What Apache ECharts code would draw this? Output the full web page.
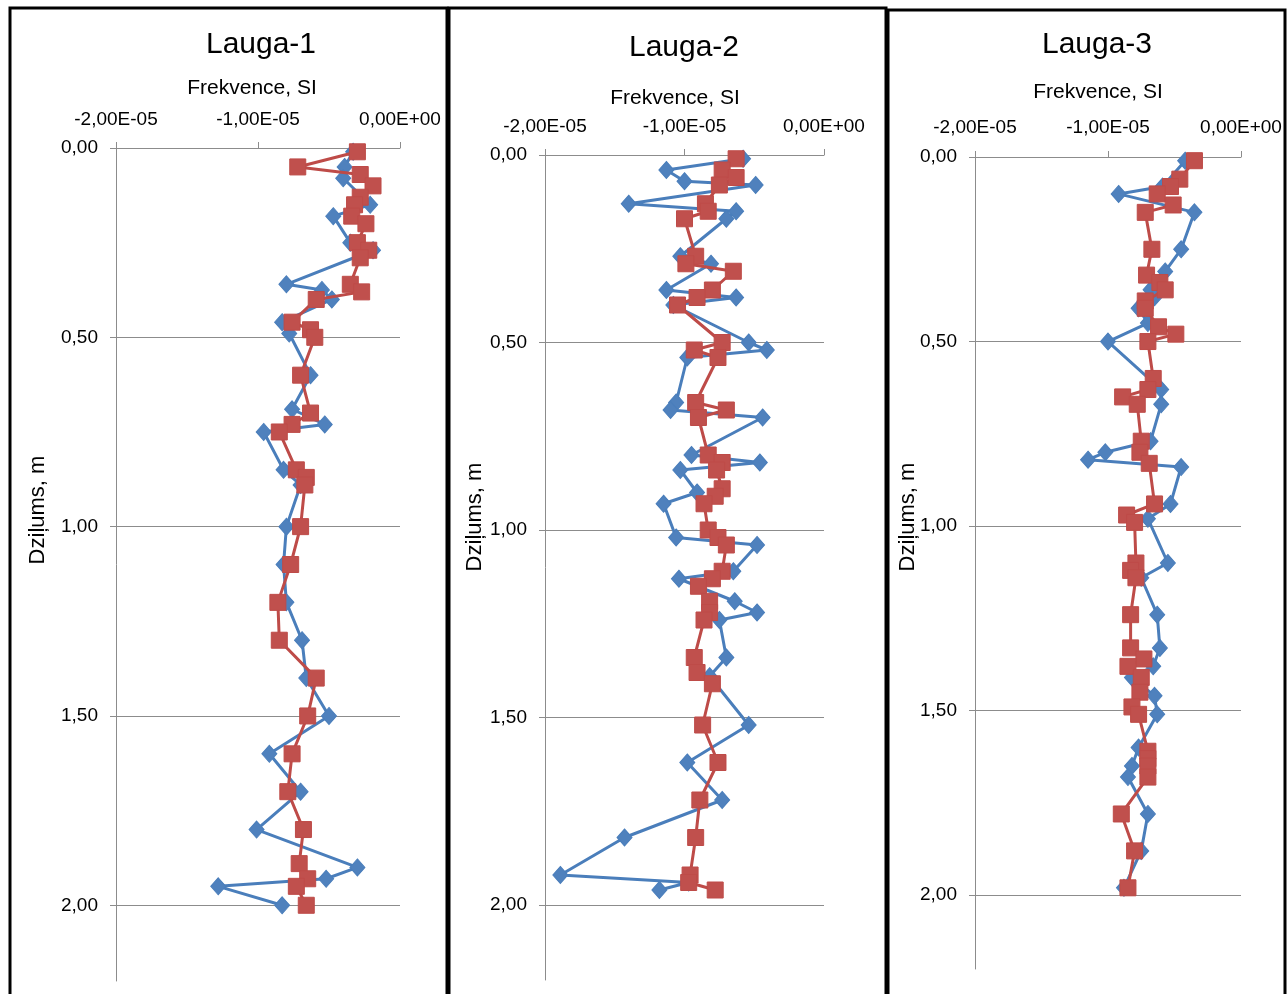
<!DOCTYPE html>
<html>
<head>
<meta charset="utf-8">
<script src="https://cdn.jsdelivr.net/npm/echarts@6/dist/echarts.min.js"></script>
<style>
html,body{margin:0;padding:0;background:#fff;}
#chart{width:1288px;height:994px;}
</style>
</head>
<body>
<div id="chart"></div>
<script>
// ---- Data (values in SI, depth in m) ----
const titles = ['Lauga-1', 'Lauga-2', 'Lauga-3'];
const xName = 'Frekvence, SI';
const yName = 'Dziļums, m';
const xTicks = [-2e-5, -1e-5, 0];
const yTicks = [0, 0.5, 1.0, 1.5, 2.0];

// Lauga-1
const depth1Blue = [0.01,0.05,0.08,0.15,0.18,0.25,0.27,0.36,0.375,0.40,0.46,0.49,0.60,0.69,0.73,0.75,0.85,0.89,1.00,1.10,1.20,1.30,1.40,1.50,1.60,1.70,1.80,1.90,1.93,1.95,2.00];
const val1Blue = [-0.33e-5,-0.39e-5,-0.40e-5,-0.21e-5,-0.47e-5,-0.35e-5,-0.19e-5,-0.80e-5,-0.55e-5,-0.48e-5,-0.83e-5,-0.78e-5,-0.63e-5,-0.76e-5,-0.53e-5,-0.96e-5,-0.82e-5,-0.70e-5,-0.80e-5,-0.82e-5,-0.80e-5,-0.69e-5,-0.66e-5,-0.50e-5,-0.92e-5,-0.70e-5,-1.01e-5,-0.30e-5,-0.52e-5,-1.28e-5,-0.83e-5];
const depth1Red = [0.01,0.05,0.07,0.10,0.13,0.15,0.18,0.20,0.25,0.27,0.29,0.36,0.38,0.40,0.46,0.48,0.50,0.60,0.70,0.73,0.75,0.85,0.87,0.89,1.00,1.10,1.20,1.30,1.40,1.50,1.60,1.70,1.80,1.89,1.93,1.95,2.00];
const val1Red = [-0.30e-5,-0.72e-5,-0.28e-5,-0.19e-5,-0.28e-5,-0.32e-5,-0.34e-5,-0.24e-5,-0.30e-5,-0.22e-5,-0.28e-5,-0.35e-5,-0.27e-5,-0.59e-5,-0.76e-5,-0.63e-5,-0.60e-5,-0.70e-5,-0.63e-5,-0.76e-5,-0.85e-5,-0.73e-5,-0.66e-5,-0.67e-5,-0.70e-5,-0.77e-5,-0.86e-5,-0.85e-5,-0.59e-5,-0.65e-5,-0.76e-5,-0.79e-5,-0.68e-5,-0.71e-5,-0.65e-5,-0.73e-5,-0.66e-5];

// Lauga-2
const depth2Blue = [0.01,0.04,0.07,0.08,0.13,0.15,0.17,0.27,0.29,0.36,0.38,0.40,0.50,0.52,0.54,0.66,0.68,0.70,0.80,0.82,0.84,0.90,0.93,1.02,1.04,1.11,1.13,1.19,1.22,1.24,1.34,1.39,1.52,1.62,1.72,1.82,1.92,1.94,1.96];
const val2Blue = [-0.58e-5,-1.13e-5,-1.00e-5,-0.49e-5,-1.40e-5,-0.63e-5,-0.70e-5,-1.03e-5,-0.81e-5,-1.13e-5,-0.63e-5,-1.08e-5,-0.54e-5,-0.41e-5,-0.98e-5,-1.06e-5,-1.10e-5,-0.44e-5,-0.95e-5,-0.46e-5,-1.03e-5,-0.91e-5,-1.15e-5,-1.06e-5,-0.48e-5,-0.65e-5,-1.04e-5,-0.64e-5,-0.48e-5,-0.75e-5,-0.70e-5,-0.82e-5,-0.54e-5,-0.98e-5,-0.73e-5,-1.43e-5,-1.89e-5,-0.97e-5,-1.18e-5];
const depth2Red = [0.01,0.04,0.06,0.08,0.13,0.15,0.17,0.27,0.29,0.31,0.36,0.38,0.40,0.50,0.52,0.54,0.66,0.68,0.70,0.80,0.82,0.84,0.89,0.91,0.93,1.00,1.02,1.04,1.11,1.13,1.15,1.19,1.22,1.24,1.34,1.38,1.41,1.52,1.62,1.72,1.82,1.92,1.94,1.96];
const val2Red = [-0.63e-5,-0.73e-5,-0.63e-5,-0.75e-5,-0.85e-5,-0.83e-5,-1.00e-5,-0.92e-5,-0.99e-5,-0.65e-5,-0.80e-5,-0.91e-5,-1.05e-5,-0.73e-5,-0.93e-5,-0.76e-5,-0.92e-5,-0.70e-5,-0.90e-5,-0.83e-5,-0.73e-5,-0.77e-5,-0.73e-5,-0.78e-5,-0.86e-5,-0.83e-5,-0.76e-5,-0.70e-5,-0.73e-5,-0.80e-5,-0.90e-5,-0.82e-5,-0.82e-5,-0.86e-5,-0.93e-5,-0.91e-5,-0.80e-5,-0.87e-5,-0.76e-5,-0.89e-5,-0.92e-5,-0.96e-5,-0.97e-5,-0.78e-5];

// Lauga-3
const depth3Blue = [0.01,0.08,0.10,0.15,0.25,0.31,0.36,0.38,0.41,0.45,0.50,0.63,0.67,0.77,0.80,0.82,0.84,0.94,0.98,1.10,1.14,1.24,1.33,1.38,1.41,1.46,1.51,1.60,1.65,1.68,1.78,1.88,1.98];
const val3Blue = [-0.42e-5,-0.59e-5,-0.92e-5,-0.35e-5,-0.45e-5,-0.57e-5,-0.68e-5,-0.65e-5,-0.77e-5,-0.70e-5,-1.00e-5,-0.60e-5,-0.60e-5,-0.68e-5,-1.02e-5,-1.15e-5,-0.45e-5,-0.53e-5,-0.70e-5,-0.55e-5,-0.75e-5,-0.63e-5,-0.61e-5,-0.66e-5,-0.82e-5,-0.65e-5,-0.63e-5,-0.77e-5,-0.82e-5,-0.85e-5,-0.70e-5,-0.75e-5,-0.88e-5];
const depth3Red = [0.01,0.06,0.08,0.10,0.13,0.15,0.25,0.32,0.34,0.36,0.39,0.41,0.46,0.48,0.50,0.60,0.63,0.65,0.67,0.77,0.80,0.83,0.94,0.97,0.99,1.10,1.12,1.14,1.24,1.33,1.36,1.38,1.41,1.45,1.49,1.51,1.61,1.63,1.65,1.68,1.78,1.88,1.98];
const val3Red = [-0.35e-5,-0.46e-5,-0.53e-5,-0.63e-5,-0.51e-5,-0.72e-5,-0.67e-5,-0.71e-5,-0.61e-5,-0.57e-5,-0.72e-5,-0.72e-5,-0.62e-5,-0.49e-5,-0.70e-5,-0.66e-5,-0.70e-5,-0.89e-5,-0.78e-5,-0.75e-5,-0.76e-5,-0.69e-5,-0.65e-5,-0.86e-5,-0.80e-5,-0.79e-5,-0.83e-5,-0.79e-5,-0.83e-5,-0.83e-5,-0.73e-5,-0.85e-5,-0.75e-5,-0.76e-5,-0.82e-5,-0.77e-5,-0.70e-5,-0.70e-5,-0.70e-5,-0.70e-5,-0.90e-5,-0.80e-5,-0.85e-5];

// ---- Layout ----
const FONT = 'Liberation Sans';
const panels = [
  {left:116, top:148, width:284, height:833, titleX:261, titleY:45, nameX:252, nameY:88, labelY:119, yNameX:38, yNameY:510, box:[10,8,437,1000]},
  {left:545, top:155, width:279, height:825, titleX:684, titleY:48, nameX:675, nameY:98, labelY:126, yNameX:475, yNameY:517, box:[449,8,437,1000]},
  {left:975, top:157, width:266, height:812, titleX:1097, titleY:45, nameX:1098, nameY:92, labelY:127, yNameX:908, yNameY:517, box:[888,10,397,1000]}
];
const blue = [[depth1Blue,val1Blue],[depth2Blue,val2Blue],[depth3Blue,val3Blue]];
const red = [[depth1Red,val1Red],[depth2Red,val2Red],[depth3Red,val3Red]];

function fmtX(v){
  if (Math.abs(v) < 1e-12) return '0,00E+00';
  const s = v.toExponential(2);
  const m = s.split('e');
  let exp = parseInt(m[1],10);
  const sign = exp < 0 ? '-' : '+';
  exp = Math.abs(exp);
  return m[0].replace('.', ',') + 'E' + sign + (exp < 10 ? '0' + exp : exp);
}
function fmtY(v){ return v.toFixed(2).replace('.', ','); }
function pairs(d, v){ return d.map((y,i)=>[v[i], y]); }

const grids=[], xAxes=[], yAxes=[], series=[], graphics=[];
panels.forEach((p,i)=>{
  grids.push({left:p.left, top:p.top, width:p.width, height:p.height, containLabel:false});
  xAxes.push({
    type:'value', gridIndex:i, position:'top', min:-2e-5, max:0, interval:1e-5,
    axisLine:{show:true, lineStyle:{color:'#8c8c8c', width:1}},
    axisTick:{show:true, inside:false, length:6, lineStyle:{color:'#8c8c8c'}},
    splitLine:{show:false},
    axisLabel:{formatter:fmtX, color:'#000', fontFamily:FONT, fontSize:19, margin:p.top - p.labelY - 10}
  });
  yAxes.push({
    type:'value', gridIndex:i, inverse:true, min:0, max:2.2, interval:0.5,
    axisLine:{show:true, onZero:false, lineStyle:{color:'#8c8c8c', width:1}},
    axisTick:{show:true, length:6, lineStyle:{color:'#8c8c8c'}, customValues:yTicks},
    splitLine:{show:true, lineStyle:{color:'#8c8c8c', width:1}},
    axisLabel:{formatter:fmtY, color:'#000', fontFamily:FONT, fontSize:19, margin:18, customValues:yTicks}
  });
  series.push({
    type:'line', xAxisIndex:i, yAxisIndex:i, data:pairs(blue[i][0], blue[i][1]),
    symbol:'diamond', symbolSize:[15,17], lineStyle:{color:'#4A7EBB', width:3},
    itemStyle:{color:'#4F81BD', borderColor:'#4A7EBB', borderWidth:1}, animation:false, z:2
  });
  series.push({
    type:'line', xAxisIndex:i, yAxisIndex:i, data:pairs(red[i][0], red[i][1]),
    symbol:'rect', symbolSize:16, lineStyle:{color:'#BE4B48', width:3},
    itemStyle:{color:'#C0504D', borderColor:'#BE4B48', borderWidth:1}, animation:false, z:3
  });
  graphics.push({type:'rect', shape:{x:p.box[0], y:p.box[1], width:p.box[2], height:p.box[3]},
    style:{fill:null, stroke:'#000', lineWidth:3}, z:10, silent:true});
  graphics.push({type:'text', x:p.titleX, y:p.titleY, style:{text:titles[i], fontFamily:FONT, fontSize:30, fill:'#000', textAlign:'center', textVerticalAlign:'middle'}});
  graphics.push({type:'text', x:p.nameX, y:p.nameY, style:{text:xName, fontFamily:FONT, fontSize:21, fill:'#000', textAlign:'center', textVerticalAlign:'middle'}});
  graphics.push({type:'text', x:p.yNameX, y:p.yNameY, rotation:Math.PI/2, style:{text:yName, fontFamily:FONT, fontSize:22, fill:'#000', textAlign:'center', textVerticalAlign:'middle'}});
});

const chart = echarts.init(document.getElementById('chart'), null, {renderer:'canvas'});
chart.setOption({
  backgroundColor:'#fff',
  animation:false,
  grid:grids, xAxis:xAxes, yAxis:yAxes, series:series, graphic:graphics
});
</script>
</body>
</html>
